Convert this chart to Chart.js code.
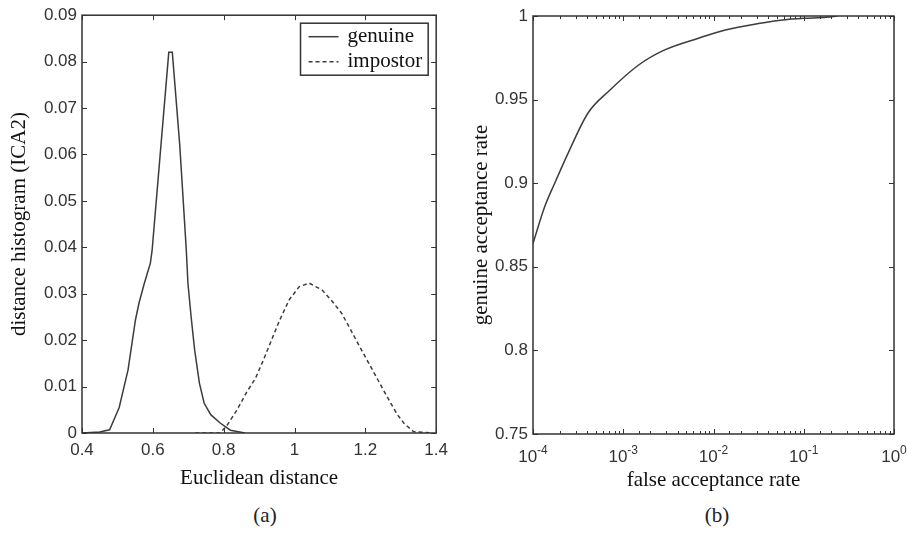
<!DOCTYPE html>
<html>
<head>
<meta charset="utf-8">
<script src="https://cdn.jsdelivr.net/npm/chart.js@4.4.1/dist/chart.umd.min.js"></script>
<style>
  html, body { margin: 0; padding: 0; background: #fff; }
  #page { position: relative; width: 907px; height: 535px; overflow: hidden; }
  canvas { position: absolute; top: 0; }
  #histChart { left: 0; }
  #rocChart { left: 455px; }
  .caption { position: absolute; top: 503px; font: 21px "Liberation Serif", "Times New Roman", serif; color: #222; transform: translateX(-50%); }
</style>
</head>
<body>
<div id="page">
  <canvas id="histChart" width="455" height="495"></canvas>
  <canvas id="rocChart" width="452" height="495"></canvas>
  <div class="caption" style="left:265px">(a)</div>
  <div class="caption" style="left:717px">(b)</div>
</div>
<script>
// (a) distance histograms
const genuineDist = [0.40, 0.45, 0.478, 0.505, 0.53, 0.551, 0.561, 0.575, 0.593, 0.598, 0.645, 0.655, 0.676, 0.6945, 0.699, 0.708, 0.718, 0.7316, 0.745, 0.764, 0.791, 0.819, 0.86];
const genuineHist = [0, 0.0002, 0.0007, 0.0055, 0.0136, 0.0244, 0.028, 0.032, 0.0366, 0.0394, 0.082, 0.082, 0.062, 0.0394, 0.0323, 0.0251, 0.0179, 0.0107, 0.0064, 0.0039, 0.0021, 0.0006, 0];
const impostorDist = [0.72, 0.79, 0.81, 0.838, 0.865, 0.89, 0.912, 0.935, 0.958, 0.985, 1.013, 1.041, 1.078, 1.105, 1.133, 1.156, 1.179, 1.202, 1.225, 1.25, 1.272, 1.29, 1.309, 1.336, 1.39];
const impostorHist = [0, 0, 0.0017, 0.005, 0.0088, 0.0118, 0.0157, 0.02, 0.0243, 0.0287, 0.0315, 0.0323, 0.0308, 0.0285, 0.0258, 0.0226, 0.0193, 0.0161, 0.0129, 0.0094, 0.0064, 0.004, 0.0021, 0.0003, 0];

// (b) ROC curve
const farValues = [1e-4, 1.35e-4, 1.74e-4, 2.45e-4, 4.07e-4, 6.9e-4, 1.48e-3, 2.88e-3, 6.8e-3, 1.35e-2, 3.3e-2, 5.9e-2, 0.1, 0.178, 0.234];
const garValues = [0.864, 0.886, 0.900, 0.918, 0.942, 0.955, 0.9707, 0.9797, 0.9867, 0.9916, 0.9956, 0.9976, 0.9986, 0.9992, 1.0];

const lineColor = '#3c3c3c';
const axisColor = '#333';
const tickFont = { family: '"Liberation Sans", Arial, sans-serif', size: 17 };
const titleFont = { family: '"Liberation Serif", "Times New Roman", serif', size: 21 };

function toPoints(xs, ys) {
  return xs.map((x, i) => ({ x: x, y: ys[i] }));
}

function cleanNum(v) {
  return String(+v.toFixed(3));
}

function isDecade(v) {
  const e = Math.log10(v);
  return Math.abs(e - Math.round(e)) < 1e-9;
}

// MATLAB style box with inward ticks on all four sides
const boxTicks = {
  id: 'boxTicks',
  afterDraw(chart, args, opts) {
    const { ctx, chartArea: a, scales } = chart;
    const x = scales.x, y = scales.y;
    ctx.save();
    ctx.strokeStyle = axisColor;
    ctx.lineWidth = 1;
    ctx.beginPath();
    x.ticks.forEach(t => {
      const px = Math.round(x.getPixelForValue(t.value)) + 0.5;
      const len = (opts.logX && !isDecade(t.value)) ? 3 : 5;
      ctx.moveTo(px, a.bottom); ctx.lineTo(px, a.bottom - len);
      ctx.moveTo(px, a.top); ctx.lineTo(px, a.top + len);
    });
    y.ticks.forEach(t => {
      const py = Math.round(y.getPixelForValue(t.value)) + 0.5;
      ctx.moveTo(a.left, py); ctx.lineTo(a.left + 5, py);
      ctx.moveTo(a.right, py); ctx.lineTo(a.right - 5, py);
    });
    ctx.stroke();
    ctx.lineWidth = 1.5;
    ctx.strokeRect(a.left, a.top, a.width, a.height);

    // decade labels as 10 with a raised exponent
    if (opts.logX) {
      ctx.fillStyle = '#333';
      ctx.textBaseline = 'alphabetic';
      ctx.textAlign = 'left';
      x.ticks.filter(t => isDecade(t.value)).forEach(t => {
        const px = x.getPixelForValue(t.value);
        const exp = String(Math.round(Math.log10(t.value)));
        ctx.font = tickFont.size + 'px ' + tickFont.family;
        const w1 = ctx.measureText('10').width;
        ctx.font = '12px ' + tickFont.family;
        const w2 = ctx.measureText(exp).width;
        const x0 = px - (w1 + w2) / 2;
        const base = a.bottom + 28;
        ctx.font = tickFont.size + 'px ' + tickFont.family;
        ctx.fillText('10', x0, base);
        ctx.font = '12px ' + tickFont.family;
        ctx.fillText(exp, x0 + w1, base - 8);
      });
    }
    ctx.restore();
  }
};

// legend box in the upper right corner of the plot
const boxLegend = {
  id: 'boxLegend',
  afterDraw(chart) {
    const { ctx, chartArea: a } = chart;
    const sets = chart.data.datasets;
    ctx.save();
    ctx.font = titleFont.size + 'px ' + titleFont.family;
    const textW = Math.max(...sets.map(d => ctx.measureText(d.label).width));
    const rowH = 25;
    const w = 8 + 30 + 9 + textW + 6;
    const h = rowH * sets.length + 2;
    const left = a.right - 8 - w;
    const top = a.top + 8;
    ctx.fillStyle = '#fff';
    ctx.fillRect(left, top, w, h);
    ctx.strokeStyle = axisColor;
    ctx.lineWidth = 1.5;
    ctx.strokeRect(left, top, w, h);
    sets.forEach((d, i) => {
      const cy = top + rowH * i + rowH / 2 + 1;
      ctx.strokeStyle = d.borderColor;
      ctx.lineWidth = d.borderWidth;
      ctx.setLineDash(d.borderDash || []);
      ctx.beginPath();
      ctx.moveTo(left + 8, cy); ctx.lineTo(left + 38, cy);
      ctx.stroke();
      ctx.setLineDash([]);
      ctx.fillStyle = '#111';
      ctx.textBaseline = 'middle';
      ctx.fillText(d.label, left + 47, cy);
    });
    ctx.restore();
  }
};

function initHistChart() {
  const ctx = document.getElementById('histChart');
  new Chart(ctx.getContext('2d'), {
    type: 'line',
    data: {
      datasets: [{
        label: 'genuine',
        data: toPoints(genuineDist, genuineHist),
        borderColor: lineColor,
        borderWidth: 1.5,
        pointRadius: 0,
        tension: 0
      }, {
        label: 'impostor',
        data: toPoints(impostorDist, impostorHist),
        borderColor: lineColor,
        borderWidth: 1.5,
        borderDash: [4, 3],
        pointRadius: 0,
        tension: 0
      }]
    },
    options: {
      responsive: false,
      animation: false,
      layout: { padding: { left: 0, top: 15, right: 12, bottom: 0 } },
      plugins: { legend: { display: false }, tooltip: { enabled: false }, boxTicks: {} },
      scales: {
        x: {
          type: 'linear', min: 0.4, max: 1.4,
          afterFit: s => { s.height = 62; },
          grid: { display: false, drawTicks: false },
          border: { display: false },
          ticks: { stepSize: 0.2, padding: 7, color: '#333', font: tickFont, maxRotation: 0, callback: v => cleanNum(v) },
          title: { display: true, text: 'Euclidean distance', color: '#111', font: titleFont, padding: { top: 0, bottom: 4 } }
        },
        y: {
          min: 0, max: 0.09,
          afterFit: s => { s.width = 82; },
          grid: { display: false, drawTicks: false },
          border: { display: false },
          ticks: { stepSize: 0.01, padding: 5, color: '#333', font: tickFont, callback: v => cleanNum(v) },
          title: { display: true, text: 'distance histogram (ICA2)', color: '#111', font: titleFont, padding: { top: 7, bottom: 0 } }
        }
      }
    },
    plugins: [boxTicks, boxLegend]
  });
}

function initRocChart() {
  const ctx = document.getElementById('rocChart');
  new Chart(ctx.getContext('2d'), {
    type: 'line',
    data: {
      datasets: [{
        label: 'ROC',
        data: toPoints(farValues, garValues),
        borderColor: lineColor,
        borderWidth: 1.5,
        pointRadius: 0,
        cubicInterpolationMode: 'monotone'
      }]
    },
    options: {
      responsive: false,
      animation: false,
      layout: { padding: { left: 0, top: 16, right: 13, bottom: 0 } },
      plugins: { legend: { display: false }, tooltip: { enabled: false }, boxTicks: { logX: true } },
      scales: {
        x: {
          type: 'logarithmic', min: 1e-4, max: 1,
          afterFit: s => { s.height = 61; },
          grid: { display: false, drawTicks: false },
          border: { display: false },
          ticks: { autoSkip: false, maxRotation: 0, padding: 9, color: '#333', font: tickFont, callback: () => '' },
          title: { display: true, text: 'false acceptance rate', color: '#111', font: titleFont, padding: { top: 0, bottom: 2 } }
        },
        y: {
          min: 0.75, max: 1,
          afterFit: s => { s.width = 78; },
          grid: { display: false, drawTicks: false },
          border: { display: false },
          ticks: { stepSize: 0.05, padding: 5, color: '#333', font: tickFont, callback: v => cleanNum(v) },
          title: { display: true, text: 'genuine acceptance rate', color: '#111', font: titleFont, padding: { top: 14, bottom: 0 } }
        }
      }
    },
    plugins: [boxTicks]
  });
}

initHistChart();
initRocChart();
</script>
</body>
</html>
